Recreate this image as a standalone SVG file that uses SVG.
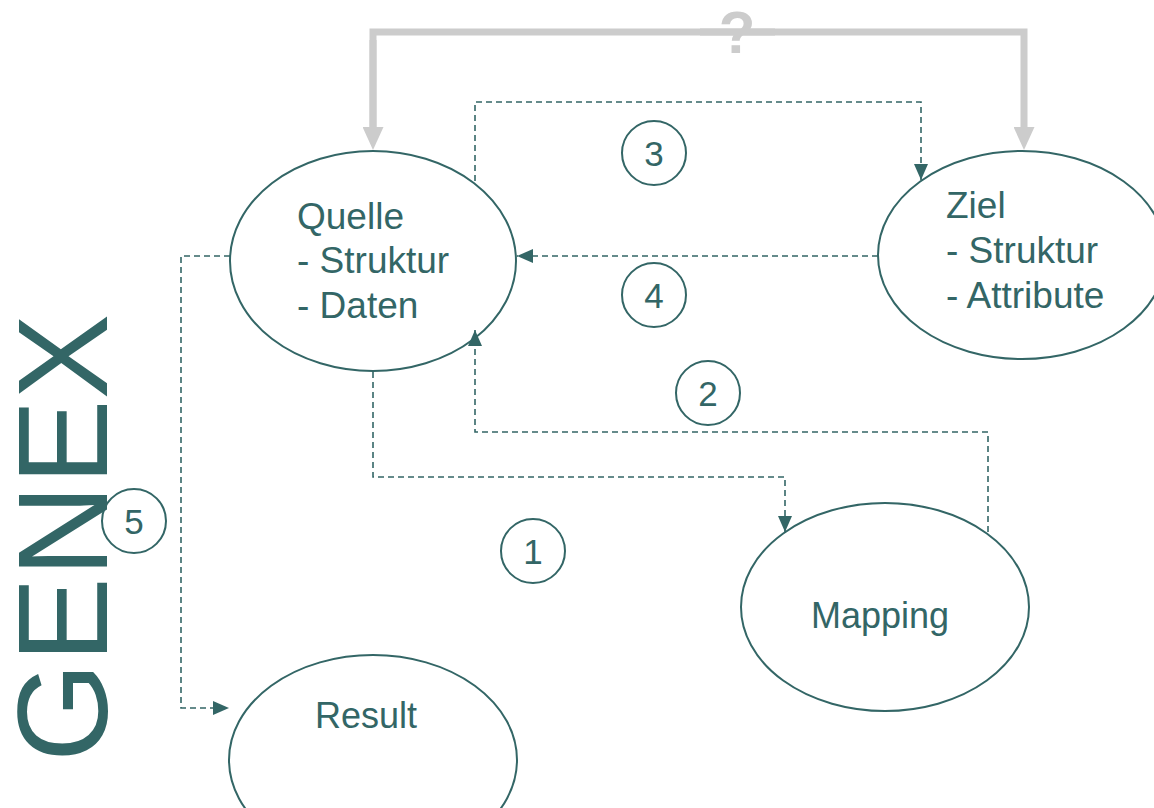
<svg xmlns="http://www.w3.org/2000/svg" width="1154" height="808" viewBox="0 0 1154 808">
<defs>
<style>
.node{fill:none;stroke:#336666;stroke-width:2}
.lbl{font-family:"Liberation Sans",Arial,sans-serif;font-size:36px;fill:#336666}
.lst{font-size:37px}
.num{font-family:"Liberation Sans",Arial,sans-serif;font-size:35px;fill:#336666;text-anchor:middle}
.dash{fill:none;stroke:#336666;stroke-width:1.6;stroke-dasharray:6 4}
.grey{fill:none;stroke:#cccccc;stroke-width:7}
</style>
<marker id="ah" viewBox="0 0 10 10" refX="10" refY="5" markerWidth="16" markerHeight="14" markerUnits="userSpaceOnUse" orient="auto" preserveAspectRatio="none">
<path d="M0,0 L10,5 L0,10 Z" fill="#336666"/>
</marker>
<marker id="gh" viewBox="0 0 10 10" refX="0" refY="5" markerWidth="23" markerHeight="21" markerUnits="userSpaceOnUse" orient="auto" preserveAspectRatio="none">
<path d="M0,0 L10,5 L0,10 Z" fill="#cccccc"/>
</marker>
</defs>
<rect width="1154" height="808" fill="#ffffff"/>

<text class="lbl" transform="translate(107,762) rotate(-90)" style="font-size:128px">GENEX</text>

<g id="connectors">
<path class="grey" d="M373,127 V32 H1024 V127" marker-end="url(#gh)"/>
<path class="grey" d="M373,40 V127" marker-end="url(#gh)"/>
<path class="dash" d="M373,372 V477 H785 V532" marker-end="url(#ah)"/>
<path class="dash" d="M988,532 V432 H475 V330" marker-end="url(#ah)"/>
<path class="dash" d="M475,181 V102 H921 V180" marker-end="url(#ah)"/>
<path class="dash" d="M878,256 H517" marker-end="url(#ah)"/>
<path class="dash" d="M230,256 H181 V708 H229" marker-end="url(#ah)"/>
</g>

<text x="737" y="53" style="font-family:'Liberation Sans',Arial,sans-serif;font-size:60px;font-weight:bold;fill:#cccccc;text-anchor:middle">?</text>
<path class="grey" d="M700,32 H775"/>

<g id="quelle">
<ellipse class="node" cx="373" cy="261" rx="143" ry="110"/>
<text class="lbl lst" x="297" y="229">Quelle</text>
<text class="lbl lst" x="297" y="273">- Struktur</text>
<text class="lbl lst" x="297" y="318">- Daten</text>
</g>
<g id="ziel">
<ellipse class="node" cx="1022" cy="255" rx="144" ry="104"/>
<text class="lbl lst" x="946" y="218">Ziel</text>
<text class="lbl lst" x="946" y="263">- Struktur</text>
<text class="lbl lst" x="946" y="308">- Attribute</text>
</g>
<g id="mapping">
<ellipse class="node" cx="885" cy="607" rx="144" ry="104"/>
<text class="lbl" x="880" y="628" text-anchor="middle">Mapping</text>
</g>
<g id="result">
<ellipse class="node" cx="373" cy="760" rx="144" ry="105"/>
<text class="lbl" x="366" y="728" text-anchor="middle">Result</text>
</g>

<g id="n1"><circle class="node" cx="533" cy="551" r="32"/><text class="num" x="533" y="564">1</text></g>
<g id="n2"><circle class="node" cx="708" cy="393" r="32"/><text class="num" x="708" y="406">2</text></g>
<g id="n3"><circle class="node" cx="654" cy="153" r="32"/><text class="num" x="654" y="166">3</text></g>
<g id="n4"><circle class="node" cx="654" cy="295" r="32"/><text class="num" x="654" y="308">4</text></g>
<g id="n5"><circle class="node" cx="134" cy="521" r="32"/><text class="num" x="134" y="534">5</text></g>
</svg>
